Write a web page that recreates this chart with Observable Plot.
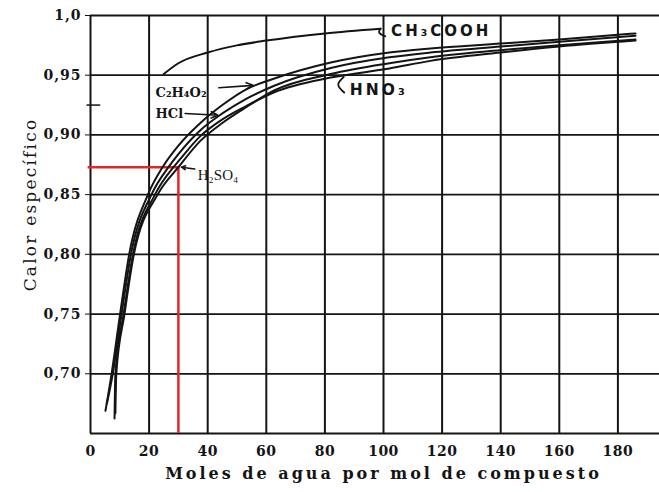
<!DOCTYPE html>
<html>
<head>
<meta charset="utf-8">
<script src="https://cdn.jsdelivr.net/npm/d3@7"></script>
<script src="https://cdn.jsdelivr.net/npm/@observablehq/plot@0.6"></script>
<style>
  html, body { margin: 0; padding: 0; background: #fff; overflow: hidden; width: 659px; height: 492px; }
  svg.cp-chart { max-width: none !important; width: 700px; height: 492px; }
  .cp-chart [aria-label="y-axis tick label"] text { letter-spacing: 1px; }
  .cp-chart [aria-label="x-axis tick label"] text { letter-spacing: 0.5px; }
  .cp-chart .titulo-x { letter-spacing: 3px; }
  .cp-chart .titulo-y { letter-spacing: 2.2px; }
  .cp-chart .rotulo-sans { letter-spacing: 3px; }
</style>
</head>
<body>
<div id="chart"></div>
<script>
// Calor específico de disoluciones acuosas frente a moles de agua por mol de compuesto

// Escala y marcas de los ejes
const xTicks = [0, 20, 40, 60, 80, 100, 120, 140, 160, 180, 200];
const yTicks = [0.65, 0.70, 0.75, 0.80, 0.85, 0.90, 0.95, 1.00];
const yTickLabels = [0.70, 0.75, 0.80, 0.85, 0.90, 0.95, 1.00];
const yExtraTick = [0.925];

// CH3COOH
const molesCH3COOH = [25, 30, 40, 50, 60, 80, 99];
const cpCH3COOH    = [0.951, 0.960, 0.969, 0.975, 0.979, 0.985, 0.989];

// C2H4O2
const molesC2H4O2 = [5.1, 7.2, 10.1, 13.2, 19.6, 24.6, 30, 37.5, 45, 53, 62.5, 82, 102, 116, 140, 160, 186];
const cpC2H4O2    = [0.669, 0.700, 0.750, 0.800, 0.850, 0.873, 0.891, 0.910, 0.925, 0.938, 0.947, 0.9606, 0.969, 0.9724, 0.9765, 0.980, 0.985];

// HCl
const molesHCl = [5.6, 7.6, 10.6, 13.8, 20.8, 26.6, 30, 37.5, 45, 53, 62.5, 82, 102, 116, 140, 160, 186];
const cpHCl    = [0.675, 0.700, 0.750, 0.800, 0.850, 0.873, 0.884, 0.904, 0.918, 0.930, 0.941, 0.956, 0.965, 0.969, 0.974, 0.978, 0.983];

// HNO3
const molesHNO3 = [8.2, 8.5, 11.3, 14.5, 22, 28.3, 30, 37.5, 45, 53, 62.5, 82, 102, 116, 140, 160, 186];
const cpHNO3    = [0.6625, 0.700, 0.750, 0.800, 0.850, 0.873, 0.878, 0.899, 0.913, 0.924, 0.9355, 0.948, 0.9556, 0.962, 0.969, 0.974, 0.979];

// H2SO4
const molesH2SO4 = [8.5, 8.8, 11.6, 14.8, 22.9, 30, 37.5, 45, 53, 62.5, 82, 102, 116, 140, 160, 186];
const cpH2SO4    = [0.667, 0.700, 0.750, 0.800, 0.850, 0.873, 0.895, 0.910, 0.923, 0.937, 0.951, 0.960, 0.965, 0.971, 0.975, 0.980];

// Lectura marcada en rojo: 30 moles de agua -> calor específico 0,873
const lecturaMoles = [30];
const lecturaCp = [0.873];

// Rótulos de las curvas (texto, moles, calor específico)
const rotuloTexto = ["CH₃COOH", "C₂H₄O₂", "HCl", "H₂SO₄", "HNO₃"];
const rotuloMoles = [102.6, 22.2, 22.2, 36.6, 88.5];
const rotuloCp    = [0.9872, 0.9355, 0.918, 0.8660, 0.9375];

// Flechas de los rótulos [x1, y1, x2, y2]
const flechaC2H4O2 = [43.8, 0.9395, 55.5, 0.9415];
const flechaHCl    = [32.3, 0.9180, 43.5, 0.9165];
const flechaH2SO4  = [35.6, 0.8715, 31.0, 0.8730];
// Ganchos curvos de CH3COOH y HNO3
const ganchoCH3COOH = [[99.0, 0.9890], [97.9, 0.9855], [100.6, 0.9825]];
const ganchoHNO3    = [[86.4, 0.9485], [83.6, 0.9420], [86.6, 0.9355]];

function serie(nombre, moles, cp) {
  return moles.map((m, i) => ({compuesto: nombre, moles: m, cp: cp[i]}));
}
const curvas = [
  ...serie("CH3COOH", molesCH3COOH, cpCH3COOH),
  ...serie("C2H4O2", molesC2H4O2, cpC2H4O2),
  ...serie("HCl", molesHCl, cpHCl),
  ...serie("HNO3", molesHNO3, cpHNO3),
  ...serie("H2SO4", molesH2SO4, cpH2SO4)
];

const fmtCp = d => (d === 1 ? "1,0" : d.toFixed(2).replace(".", ","));
const tinta = "#141414";
const serif = "'DejaVu Serif', 'Liberation Serif', serif";
const sans = "'DejaVu Sans', 'Liberation Sans', sans-serif";

function flecha(f) {
  return Plot.arrow([f], {x1: d => d[0], y1: d => d[1], x2: d => d[2], y2: d => d[3],
    stroke: tinta, strokeWidth: 1.6, headLength: 7, headAngle: 50});
}
function gancho(g) {
  return Plot.line(g, {x: d => d[0], y: d => d[1], stroke: tinta, strokeWidth: 1.8, curve: "basis"});
}
function rotulo(i, opts) {
  return Plot.text([i], {x: j => rotuloMoles[j], y: j => rotuloCp[j], text: j => rotuloTexto[j],
    textAnchor: "start", fill: tinta, ...opts});
}

const chart = Plot.plot({
  className: "cp-chart",
  width: 700,
  height: 492,
  marginLeft: 90,
  marginRight: 24,
  marginTop: 15,
  marginBottom: 59,
  x: {domain: [0, 200]},
  y: {domain: [0.65, 1.0]},
  style: {background: "#fff", color: tinta, maxWidth: "none"},
  marks: [
    // cuadrícula
    Plot.ruleX(xTicks, {stroke: tinta, strokeWidth: 2}),
    Plot.ruleY(yTicks, {stroke: tinta, strokeWidth: 1.8}),
    Plot.ruleY(yExtraTick, {x1: -1.2, x2: 3.5, stroke: tinta, strokeWidth: 1.5}),
    // ejes
    Plot.axisX({ticks: xTicks, tickSize: 0, tickPadding: 13, tickFormat: d => String(d),
      fontFamily: serif, fontWeight: "bold", fontSize: 14, label: null}),
    Plot.axisY({ticks: yTickLabels, tickSize: 5, tickPadding: 4, tickFormat: fmtCp,
      fontFamily: serif, fontWeight: "bold", fontSize: 14, label: null, stroke: tinta}),
    Plot.text(["Moles de agua por mol de compuesto"], {frameAnchor: "bottom", dy: 45,
      fontFamily: serif, fontWeight: "bold", fontSize: 16, fill: tinta, className: "titulo-x"}),
    Plot.text(["Calor específico"], {frameAnchor: "left", textAnchor: "middle", dx: -60, dy: -20, rotate: -90,
      fontFamily: serif, fontSize: 17, fill: tinta, className: "titulo-y"}),
    // lectura en rojo
    Plot.ruleY(lecturaCp, {x1: -0.8, x2: lecturaMoles[0], stroke: "#e3262c", strokeWidth: 2.5}),
    Plot.ruleX(lecturaMoles, {y1: 0.65, y2: lecturaCp[0], stroke: "#e3262c", strokeWidth: 2.5}),
    // curvas
    Plot.line(curvas, {x: "moles", y: "cp", z: "compuesto", stroke: tinta, strokeWidth: 2, curve: "monotone-x"}),
    // rótulos
    rotulo(0, {fontFamily: sans, fontWeight: "bold", fontSize: 15, className: "rotulo-sans"}),
    rotulo(1, {fontFamily: serif, fontWeight: "bold", fontSize: 13}),
    rotulo(2, {fontFamily: serif, fontWeight: "bold", fontSize: 13}),
    rotulo(3, {fontFamily: "'Liberation Serif', serif", fontSize: 15}),
    rotulo(4, {fontFamily: sans, fontWeight: "bold", fontSize: 15.5, className: "rotulo-sans"}),
    flecha(flechaC2H4O2),
    flecha(flechaHCl),
    flecha(flechaH2SO4),
    gancho(ganchoCH3COOH),
    gancho(ganchoHNO3)
  ]
});

document.getElementById("chart").appendChild(chart);
</script>
</body>
</html>
